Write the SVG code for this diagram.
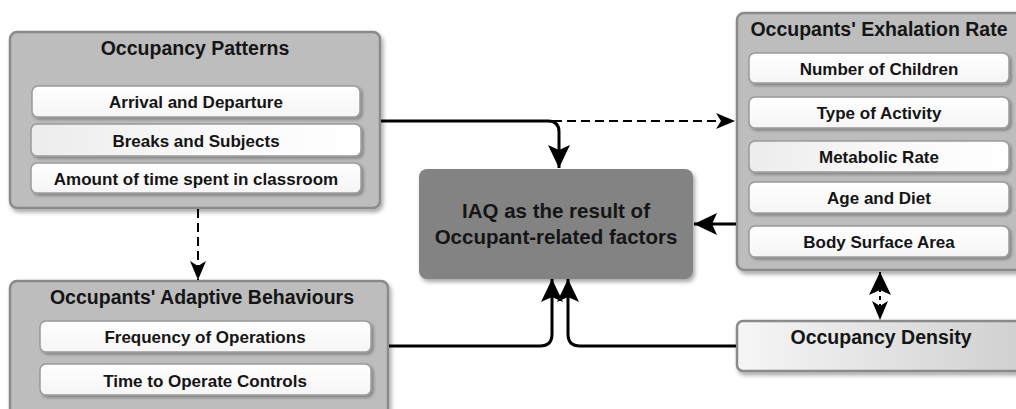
<svg xmlns="http://www.w3.org/2000/svg" width="1016" height="409" viewBox="0 0 1016 409">
<style>
.outer{fill:#bdbdbd;stroke:#8a8a8a;stroke-width:2.5;filter:url(#sh)}
.inner{fill:url(#gi);stroke:#9a9a9a;stroke-width:1.5;filter:url(#sh2)}
.innerg{fill:url(#gg);stroke:#9a9a9a;stroke-width:1.5;filter:url(#sh2)}
.title{font-family:"Liberation Sans",Arial,sans-serif;font-weight:bold;font-size:19.5px;fill:#151515;text-anchor:middle}
.lbl{font-family:"Liberation Sans",Arial,sans-serif;font-weight:bold;font-size:17px;fill:#151515;text-anchor:middle}
.solid{fill:none;stroke:#000;stroke-width:3}
.dash{fill:none;stroke:#000;stroke-width:2;stroke-dasharray:9,5}
</style>
<defs>
<filter id="sh" x="-10%" y="-10%" width="125%" height="130%"><feDropShadow dx="2" dy="3" stdDeviation="2" flood-color="#000" flood-opacity="0.35"/></filter>
<filter id="sh2" x="-10%" y="-20%" width="125%" height="160%"><feDropShadow dx="2" dy="2" stdDeviation="1.5" flood-color="#000" flood-opacity="0.3"/></filter>
<linearGradient id="gi" x1="0" y1="0" x2="0" y2="1"><stop offset="0" stop-color="#ffffff"/><stop offset="1" stop-color="#f5f5f5"/></linearGradient>
<linearGradient id="gg" x1="0" y1="0" x2="1" y2="0"><stop offset="0" stop-color="#ececec"/><stop offset="0.5" stop-color="#f8f8f8"/><stop offset="1" stop-color="#ffffff"/></linearGradient>
<linearGradient id="gd" x1="0" y1="0" x2="1" y2="0"><stop offset="0" stop-color="#f6f6f6"/><stop offset="1" stop-color="#cfcfcf"/></linearGradient>
<marker id="ah" viewBox="-24 -12 26 24" refX="0" refY="0" markerWidth="26" markerHeight="24" markerUnits="userSpaceOnUse" orient="auto-start-reverse"><path d="M0,0 L-23,-11 L-18,0 L-23,11 Z" fill="#000"/></marker>
<marker id="ahs" viewBox="-20 -9 22 18" refX="0" refY="0" markerWidth="22" markerHeight="18" markerUnits="userSpaceOnUse" orient="auto-start-reverse"><path d="M0,0 L-19,-8 L-14,0 L-19,8 Z" fill="#000"/></marker>
</defs>

<g id="occupancy-patterns">
<rect class="outer" x="10" y="32" width="370" height="176" rx="7"/>
<text class="title" x="195" y="55">Occupancy Patterns</text>
<rect class="inner" x="32" y="86" width="328" height="31" rx="6"/>
<text class="lbl" x="196" y="108">Arrival and Departure</text>
<rect class="innerg" x="31" y="124" width="330" height="32" rx="6"/>
<text class="lbl" x="196" y="147">Breaks and Subjects</text>
<rect class="inner" x="31" y="163" width="330" height="30" rx="6"/>
<text class="lbl" x="196" y="185">Amount of time spent in classroom</text>
</g>

<g id="iaq">
<rect x="419" y="169" width="274" height="110" rx="8" fill="#838383" filter="url(#sh)"/>
<text class="title" x="556" y="218" style="font-size:20.5px">IAQ as the result of</text>
<text class="title" x="556" y="244" style="font-size:20.5px">Occupant-related factors</text>
</g>

<g id="exhalation-rate">
<rect class="outer" x="737" y="13" width="290" height="257" rx="7"/>
<text class="title" x="879" y="36">Occupants' Exhalation Rate</text>
<rect class="inner" x="749" y="53" width="260" height="30" rx="6"/>
<text class="lbl" x="879" y="75">Number of Children</text>
<rect class="inner" x="749" y="97" width="260" height="31" rx="6"/>
<text class="lbl" x="879" y="119">Type of Activity</text>
<rect class="innerg" x="749" y="141" width="260" height="31" rx="6"/>
<text class="lbl" x="879" y="163">Metabolic Rate</text>
<rect class="inner" x="749" y="182" width="260" height="31" rx="6"/>
<text class="lbl" x="879" y="204">Age and Diet</text>
<rect class="inner" x="749" y="226" width="260" height="31" rx="6"/>
<text class="lbl" x="879" y="248">Body Surface Area</text>
</g>

<g id="adaptive-behaviours">
<rect class="outer" x="10" y="281" width="378" height="140" rx="7"/>
<text class="title" x="202" y="304">Occupants' Adaptive Behaviours</text>
<rect class="inner" x="40" y="321" width="331" height="31" rx="6"/>
<text class="lbl" x="205" y="343">Frequency of Operations</text>
<rect class="inner" x="40" y="364" width="331" height="31" rx="6"/>
<text class="lbl" x="205" y="387">Time to Operate Controls</text>
</g>

<g id="occupancy-density">
<rect x="737" y="321" width="290" height="50" rx="6" fill="url(#gd)" stroke="#8a8a8a" stroke-width="2.5" filter="url(#sh)"/>
<text class="title" x="881" y="344">Occupancy Density</text>
</g>

<g id="connectors">
<path class="solid" d="M381,121 H548 Q559,121 559,132 V168" marker-end="url(#ah)"/>
<path class="dash" d="M553,121 H735" marker-end="url(#ahs)"/>
<path class="solid" d="M736,224 H694" marker-end="url(#ah)"/>
<path class="dash" d="M198,209 V280" marker-end="url(#ahs)"/>
<path class="solid" d="M389,346 H540 Q552,346 552,334 V279" marker-end="url(#ah)"/>
<path class="solid" d="M736,346 H580 Q568,346 568,334 V279" marker-end="url(#ah)"/>
<path class="dash" d="M880,272 V320" style="stroke-dasharray:4,4" marker-start="url(#ah)" marker-end="url(#ahs)"/>
</g>
</svg>
